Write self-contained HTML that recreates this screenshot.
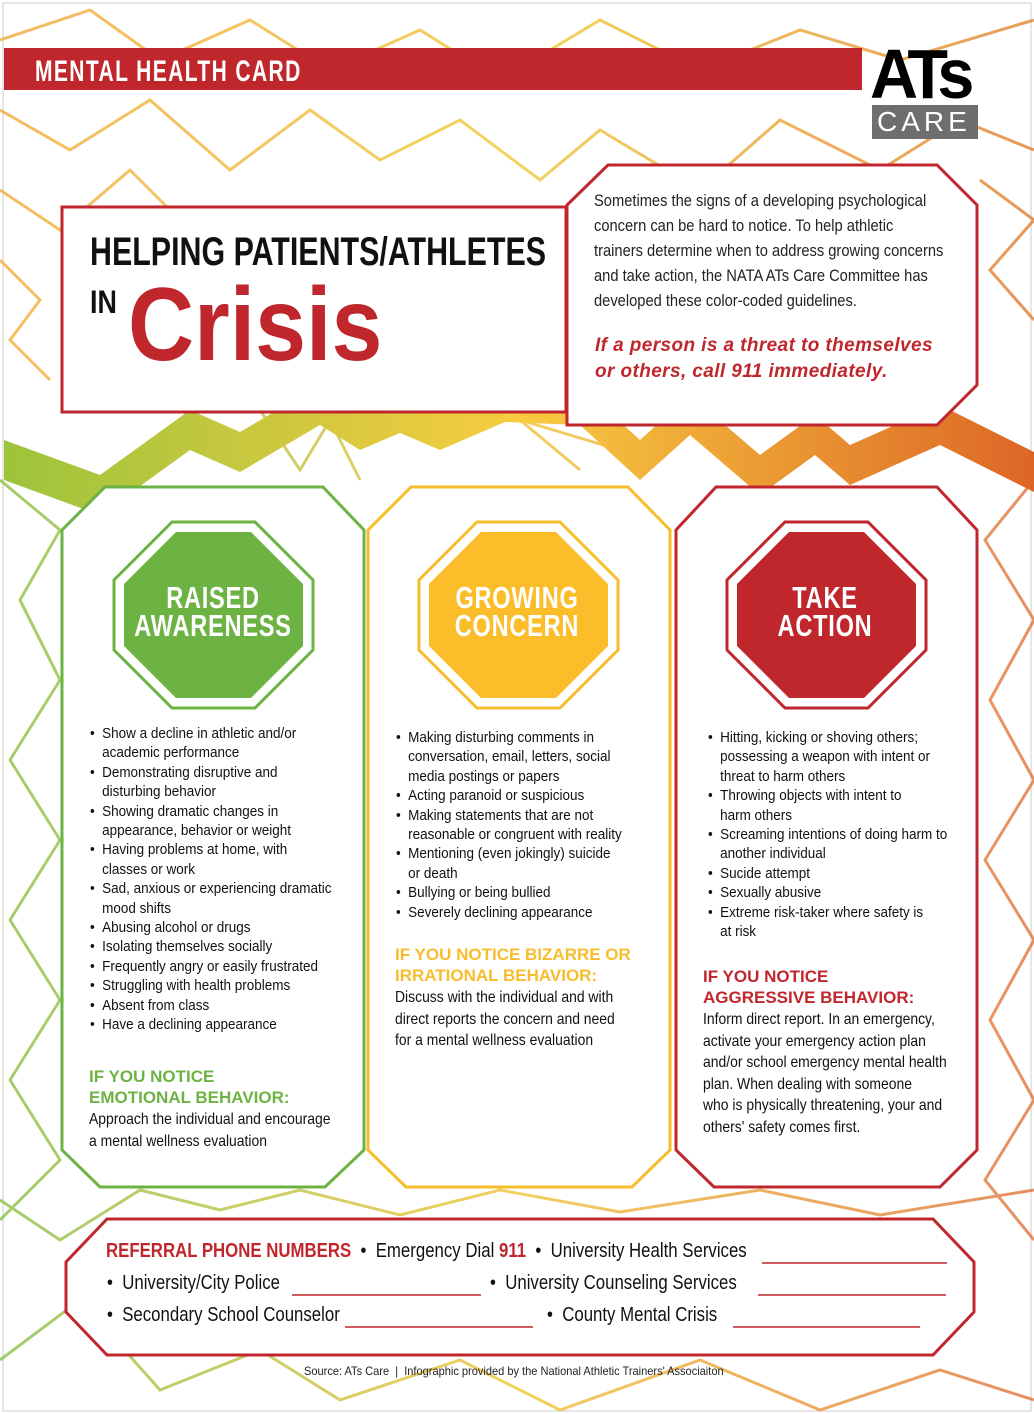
<!DOCTYPE html>
<html><head><meta charset="utf-8"><style>
*{margin:0;padding:0;box-sizing:border-box}
body{width:1034px;height:1414px;position:relative;background:#fff;font-family:"Liberation Sans",sans-serif;overflow:hidden}
.a{position:absolute;white-space:nowrap;transform-origin:0 0}
.c{transform:scaleX(.84)}
.l{transform:scaleX(.93)}
ul{list-style:none}
li{position:relative;padding-left:13px;font-size:14.5px;line-height:19.4px;color:#111;white-space:nowrap}
li:before{content:"•";position:absolute;left:0;top:0}
.hd{font-weight:bold;font-size:17px;line-height:21px}
.bt{font-size:16px;line-height:21.5px;color:#111;transform:scaleX(.87)}
.oc{position:absolute;width:240px;text-align:center;color:#fff;font-weight:bold;font-size:31px;line-height:28px;transform:scaleX(.76);transform-origin:50% 0;letter-spacing:1px;white-space:nowrap}
</style></head><body>
<svg width="1034" height="1414" style="position:absolute;left:0;top:0">
<defs>
<linearGradient id="g" x1="0" y1="0" x2="1034" y2="0" gradientUnits="userSpaceOnUse">
<stop offset="0" stop-color="#9cc43c"/><stop offset=".5" stop-color="#f8cc40"/><stop offset="1" stop-color="#dd6626"/></linearGradient>
<linearGradient id="gl" x1="0" y1="0" x2="1034" y2="300" gradientUnits="userSpaceOnUse">
<stop offset="0" stop-color="#f3a93c"/><stop offset=".5" stop-color="#f0c838"/><stop offset="1" stop-color="#e07a30"/></linearGradient>
<linearGradient id="gb" x1="0" y1="0" x2="1034" y2="0" gradientUnits="userSpaceOnUse">
<stop offset="0" stop-color="#8cc048"/><stop offset=".5" stop-color="#f0c438"/><stop offset="1" stop-color="#e0743a"/></linearGradient>
</defs>
<rect x="3" y="3" width="1028" height="1408" fill="none" stroke="#ccc" stroke-width="1"/>
<g fill="none" stroke-width="3" opacity=".8">
<polyline stroke="url(#gl)" points="0,40 90,10 160,60 250,20 330,70 420,30 500,80 600,20 700,70 800,30 900,60 1034,20"/>
<polyline stroke="url(#gl)" points="0,110 70,150 150,100 230,170 310,110 380,160 460,120 540,180 600,130 700,190 780,120 880,170 960,120 1034,150"/>
<polyline stroke="url(#gl)" points="0,190 60,230 130,170 200,240"/>
<polyline stroke="url(#gl)" points="0,260 40,300 10,340 50,380"/>
<polyline stroke="url(#gl)" points="980,180 1034,220 990,270 1034,320"/>
<polyline stroke="url(#gb)" points="0,480 60,530 20,600 60,680 10,760 60,840 10,920 60,1000 10,1080 60,1160 0,1220"/>
<polyline stroke="url(#gb)" points="1034,480 985,540 1034,620 990,700 1034,780 985,860 1034,940 990,1020 1034,1100 985,1180 1034,1240"/>
<polyline stroke="url(#gb)" points="360,480 330,420 300,470 260,410"/>
<polyline stroke="url(#gb)" points="580,470 520,420 620,450 560,400"/>
<polyline stroke="url(#gb)" points="0,1360 80,1300 160,1390 260,1350 340,1400 460,1360 560,1410 700,1360 820,1410 940,1370 1034,1400"/>
<polyline stroke="url(#gb)" points="0,1200 60,1240 140,1190 220,1210 300,1190 400,1215 500,1190 620,1212 760,1190 880,1215 1034,1190"/>
</g>
<rect x="4" y="48" width="858" height="42" fill="#c0272d"/>
<polygon points="4,440 100,475 190,410 240,432 320,385 360,410 400,393 440,410 505,382 580,385 640,440 690,395 760,455 815,415 850,445 940,405 1034,452 1034,492 940,445 850,485 815,455 760,495 690,435 640,480 580,425 505,422 440,450 400,433 360,450 320,425 240,472 190,450 100,515 4,480" fill="url(#g)"/>
<rect x="62" y="207" width="504" height="205" fill="#fff" stroke="#c0272d" stroke-width="3"/>
<polygon points="608,165 937,165 977,205 977,385 937,425 567,425 567,205" fill="#fff" stroke="#c0272d" stroke-width="3"/>
<polygon points="105,487 323,487 364,530 364,1150 325,1187 100,1187 62,1150 62,530" fill="#fff" stroke="#6db344" stroke-width="3"/>
<polygon points="411,487 628,487 670,530 670,1150 632,1187 406,1187 368,1150 368,530" fill="#fff" stroke="#f7bd2c" stroke-width="3"/>
<polygon points="716,487 937,487 977,530 977,1150 940,1187 714,1187 676,1150 676,530" fill="#fff" stroke="#c0272d" stroke-width="3"/>
<polygon points="107,1219 933,1219 974,1262 974,1312 933,1355 107,1355 66,1312 66,1262" fill="#fff" stroke="#c0272d" stroke-width="3"/>
<g stroke-width="3" fill="#fff">
<polygon points="172,522 255,522 313,580 313,650 255,708 172,708 114,650 114,580" stroke="#6db344"/>
<polygon points="477,522 560,522 618,580 618,650 560,708 477,708 419,650 419,580" stroke="#f7bd2c"/>
<polygon points="785,522 868,522 926,580 926,650 868,708 785,708 727,650 727,580" stroke="#c0272d"/>
</g>
<polygon points="176,532 251,532 303,584 303,646 251,698 176,698 124,646 124,584" fill="#6db344"/>
<polygon points="481,532 556,532 608,584 608,646 556,698 481,698 429,646 429,584" fill="#fbbd2a"/>
<polygon points="789,532 864,532 916,584 916,646 864,698 789,698 737,646 737,584" fill="#c0272d"/>
<g stroke="#c0272d" stroke-width="1.5">
<line x1="762" y1="1263" x2="947" y2="1263"/>
<line x1="292" y1="1295" x2="481" y2="1295"/>
<line x1="758" y1="1295" x2="946" y2="1295"/>
<line x1="345" y1="1327" x2="533" y2="1327"/>
<line x1="733" y1="1327" x2="920" y2="1327"/>
</g>
<rect x="872" y="105" width="106" height="34" fill="#6d6e70"/>
</svg>
<div class="a" style="left:35px;top:55px;color:#fff;font-weight:bold;font-size:30px;letter-spacing:2px;transform:scaleX(.7)">MENTAL HEALTH CARD</div>
<div class="a" style="left:870px;top:34px;font-weight:900;font-size:70px;color:#000;letter-spacing:-6px;transform:scaleX(.95)">ATs</div>
<div class="a" style="left:877px;top:106px;font-size:28px;color:#fff;letter-spacing:4px">CARE</div>
<div class="a" style="left:90px;top:230px;font-weight:bold;font-size:40px;color:#111;transform:scaleX(.76)">HELPING PATIENTS/ATHLETES</div>
<div class="a" style="left:90px;top:284px;font-weight:bold;font-size:32px;color:#111;transform:scaleX(.84)">IN</div>
<div class="a" style="left:128px;top:266px;font-weight:bold;font-size:104px;color:#c0272d;transform:scaleX(.88)">Crisis</div>
<div class="a" style="left:594px;top:189px;font-size:16.5px;line-height:25px;color:#222;transform:scaleX(.89)">Sometimes the signs of a developing psychological<br>concern can be hard to notice. To help athletic<br>trainers determine when to address growing concerns<br>and take action, the NATA ATs Care Committee has<br>developed these color-coded guidelines.</div>
<div class="a" style="left:595px;top:333px;font-size:19px;line-height:26px;color:#c0272d;font-weight:bold;font-style:italic;letter-spacing:.4px">If a person is a threat to themselves<br>or others, call 911 immediately.</div>
<div class="oc" style="left:93px;top:584px">RAISED<br>AWARENESS</div>
<div class="oc" style="left:397px;top:584px">GROWING<br>CONCERN</div>
<div class="oc" style="left:705px;top:584px">TAKE<br>ACTION</div>
<ul class="a l" style="left:90px;top:725px">
<li>Show a decline in athletic and/or<br>academic performance</li>
<li>Demonstrating disruptive and<br>disturbing behavior</li>
<li>Showing dramatic changes in<br>appearance, behavior or weight</li>
<li>Having problems at home, with<br>classes or work</li>
<li>Sad, anxious or experiencing dramatic<br>mood shifts</li>
<li>Abusing alcohol or drugs</li>
<li>Isolating themselves socially</li>
<li>Frequently angry or easily frustrated</li>
<li>Struggling with health problems</li>
<li>Absent from class</li>
<li>Have a declining appearance</li>
</ul>
<div class="a hd" style="left:89px;top:1066px;color:#6db344">IF YOU NOTICE<br>EMOTIONAL BEHAVIOR:</div>
<div class="a bt" style="left:89px;top:1109px">Approach the individual and encourage<br>a mental wellness evaluation</div>
<ul class="a l" style="left:396px;top:729px">
<li>Making disturbing comments in<br>conversation, email, letters, social<br>media postings or papers</li>
<li>Acting paranoid or suspicious</li>
<li>Making statements that are not<br>reasonable or congruent with reality</li>
<li>Mentioning (even jokingly) suicide<br>or death</li>
<li>Bullying or being bullied</li>
<li>Severely declining appearance</li>
</ul>
<div class="a hd" style="left:395px;top:944px;color:#f7bd2c">IF YOU NOTICE BIZARRE OR<br>IRRATIONAL BEHAVIOR:</div>
<div class="a bt" style="left:395px;top:987px">Discuss with the individual and with<br>direct reports the concern and need<br>for a mental wellness evaluation</div>
<ul class="a l" style="left:708px;top:729px">
<li>Hitting, kicking or shoving others;<br>possessing a weapon with intent or<br>threat to harm others</li>
<li>Throwing objects with intent to<br>harm others</li>
<li>Screaming intentions of doing harm to<br>another individual</li>
<li>Sucide attempt</li>
<li>Sexually abusive</li>
<li>Extreme risk-taker where safety is<br>at risk</li>
</ul>
<div class="a hd" style="left:703px;top:966px;color:#c0272d">IF YOU NOTICE<br>AGGRESSIVE BEHAVIOR:</div>
<div class="a bt" style="left:703px;top:1009px">Inform direct report. In an emergency,<br>activate your emergency action plan<br>and/or school emergency mental health<br>plan. When dealing with someone<br>who is physically threatening, your and<br>others' safety comes first.</div>
<div class="a c" style="left:106px;top:1240px;font-size:20px;color:#111"><b style="color:#c0272d">REFERRAL PHONE NUMBERS</b> &nbsp;•&nbsp; Emergency Dial <b style="color:#c0272d">911</b> &nbsp;•&nbsp; University Health Services</div>
<div class="a c" style="left:107px;top:1272px;font-size:20px;color:#111">•&nbsp; University/City Police</div>
<div class="a c" style="left:490px;top:1272px;font-size:20px;color:#111">•&nbsp; University Counseling Services</div>
<div class="a c" style="left:107px;top:1304px;font-size:20px;color:#111">•&nbsp; Secondary School Counselor</div>
<div class="a c" style="left:547px;top:1304px;font-size:20px;color:#111">•&nbsp; County Mental Crisis</div>
<div class="a" style="left:304px;top:1364px;font-size:12px;color:#222;transform:scaleX(.92)">Source: ATs Care &nbsp;|&nbsp; Infographic provided by the National Athletic Trainers' Associaiton</div>
</body></html>
